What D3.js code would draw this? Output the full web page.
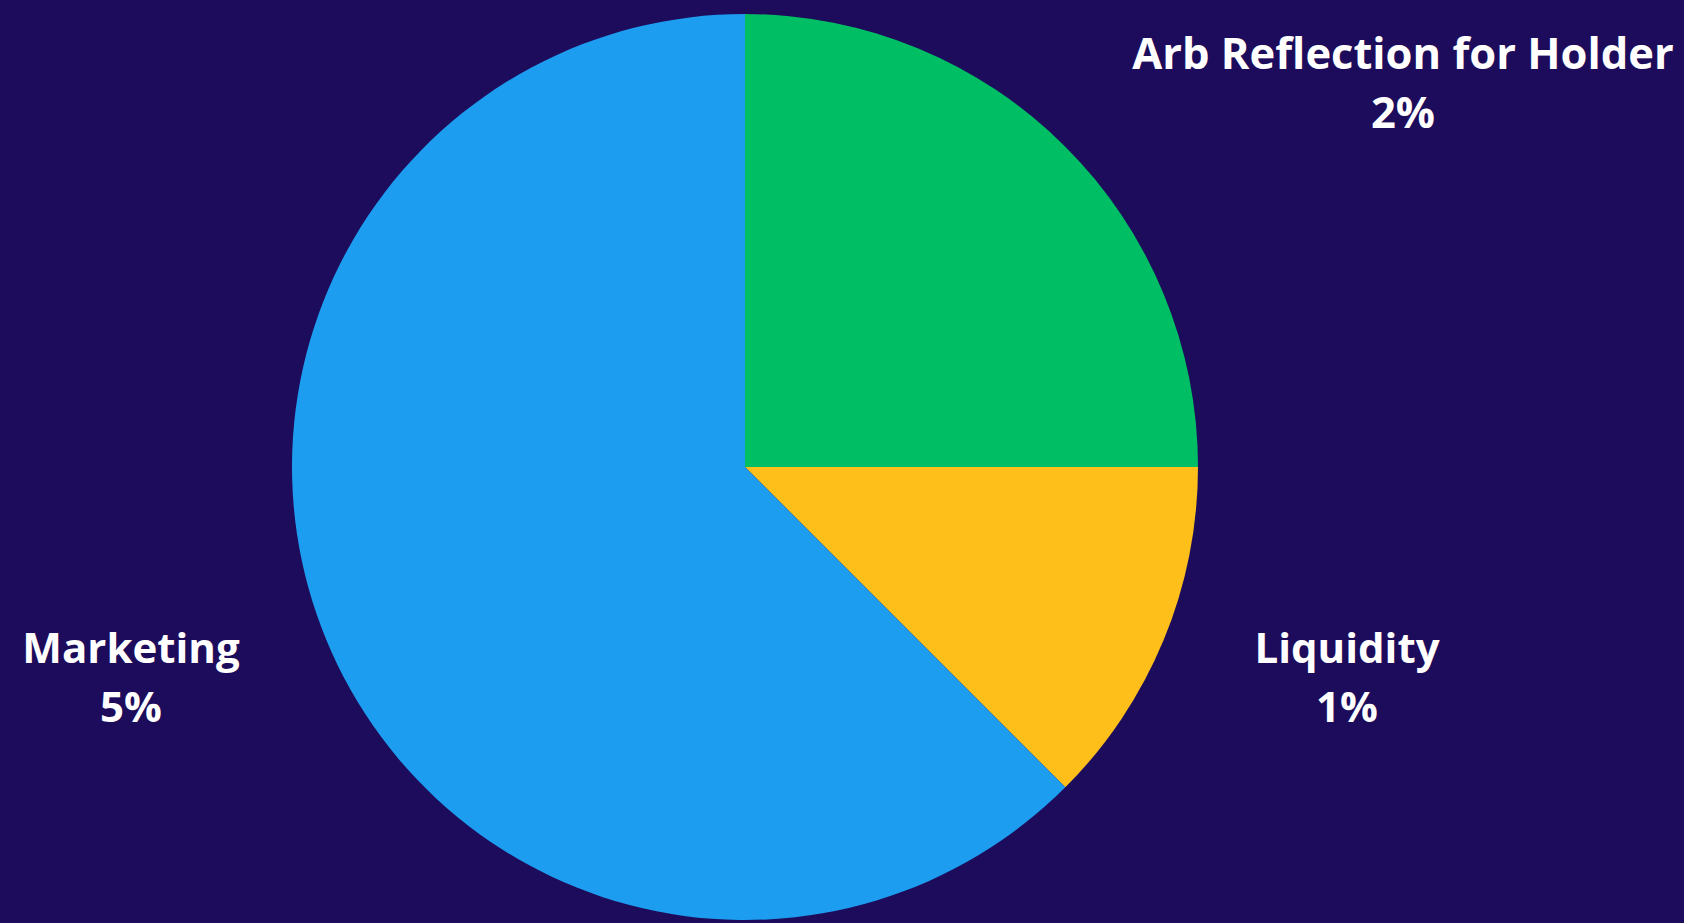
<!DOCTYPE html>
<html>
<head>
<meta charset="utf-8">
<script src="https://cdn.jsdelivr.net/npm/d3@7"></script>
<style>
  html, body { margin: 0; padding: 0; background: #1d0c5b; }
  svg { display: block; }
</style>
</head>
<body>
<svg id="vis"></svg>
<script>
const width = 1684;
const height = 923;

const categories = ['Arb Reflection for Holder', 'Liquidity', 'Marketing'];
const values = [2, 1, 5];
const colors = ['#00be64', '#ffbf1a', '#1d9df0'];

// label anchors (centre of text block, first baseline)
const labelLayout = {
  'Arb Reflection for Holder': {x: 1403, y: 69, size: 43.5},
  'Liquidity': {x: 1347, y: 663, size: 42},
  'Marketing': {x: 131, y: 663, size: 42}
};

const cx = 745, cy = 467, radius = 453;
const lineGap = 59;

const svg = d3.select('#vis').attr('width', width).attr('height', height);
svg.append('rect').attr('width', width).attr('height', height).attr('fill', '#1d0c5b');

const data = categories.map((c, i) => ({name: c, value: values[i], color: colors[i]}));
const pie = d3.pie().sort(null).value(d => d.value);
const arc = d3.arc().innerRadius(0).outerRadius(radius);

const g = svg.append('g').attr('transform', `translate(${cx},${cy})`);
g.selectAll('path.slice')
  .data(pie(data))
  .enter()
  .append('path')
  .attr('class', 'slice')
  .attr('d', arc)
  .attr('fill', d => d.data.color);

const labels = svg.selectAll('text.label')
  .data(data)
  .enter()
  .append('text')
  .attr('class', 'label')
  .attr('text-anchor', 'middle')
  .attr('fill', '#ffffff')
  .style('font-family', '"Open Sans", sans-serif')
  .style('font-weight', 700)
  .style('font-variant-ligatures', 'none')
  .style('font-size', d => labelLayout[d.name].size + 'px');

labels.append('tspan')
  .attr('x', d => labelLayout[d.name].x)
  .attr('y', d => labelLayout[d.name].y)
  .text(d => d.name);
labels.append('tspan')
  .attr('x', d => labelLayout[d.name].x)
  .attr('y', d => labelLayout[d.name].y + lineGap)
  .text(d => d.value + '%');
</script>
</body>
</html>
